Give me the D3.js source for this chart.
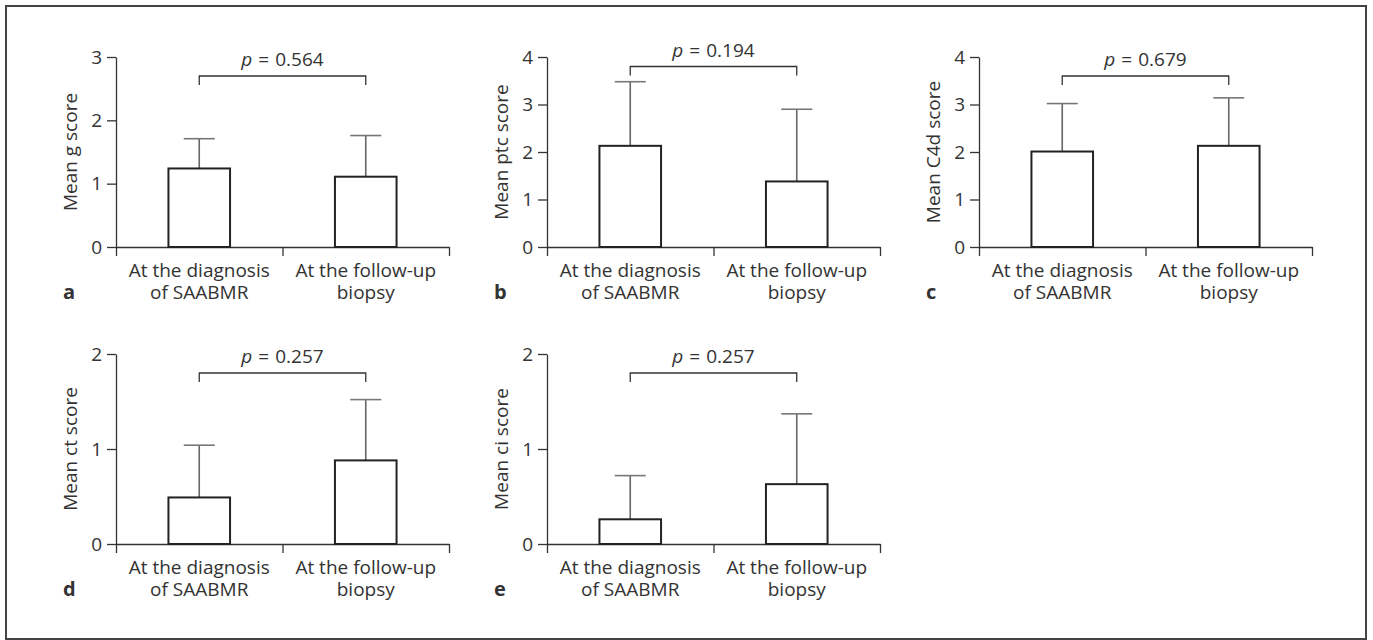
<!DOCTYPE html>
<html>
<head>
<meta charset="utf-8">
<script src="https://cdn.jsdelivr.net/npm/d3@7"></script>
<style>
  html, body { margin: 0; padding: 0; background: #fff; }
  svg { display: block; }
  text { font-family: "Open Sans", "Noto Sans", sans-serif; fill: #333; }
</style>
</head>
<body>
<svg id="chart" width="1373" height="640"></svg>
<script>
// ---- data ----
const categories = [["At the diagnosis", "of SAABMR"], ["At the follow-up", "biopsy"]];
const panelLetters = ["a", "b", "c", "d", "e"];
const yLabels = ["Mean g score", "Mean ptc score", "Mean C4d score", "Mean ct score", "Mean ci score"];
const yMax = [3, 4, 4, 2, 2];
const meanValues = [[1.24, 1.11], [2.13, 1.38], [2.01, 2.13], [0.49, 0.88], [0.26, 0.63]];
const errorTops = [[1.71, 1.76], [3.48, 2.90], [3.02, 3.14], [1.04, 1.52], [0.72, 1.37]];
const pValues = ["0.564", "0.194", "0.679", "0.257", "0.257"];
const bracketLevels = [2.70, 3.80, 3.60, 1.80, 1.80];

// ---- layout ----
const panelOrigins = [
  { x: 116, zero: 247, top: 57 },
  { x: 547, zero: 247, top: 57 },
  { x: 979, zero: 247, top: 57 },
  { x: 116, zero: 544, top: 354 },
  { x: 547, zero: 544, top: 354 }
];
const axisW = 333;
const FS = 19;

const svg = d3.select("#chart");

// outer frame
svg.append("rect")
  .attr("x", 6).attr("y", 6)
  .attr("width", 1360).attr("height", 633)
  .attr("fill", "none").attr("stroke", "#444").attr("stroke-width", 2);

panelOrigins.forEach((o, i) => {
  const g = svg.append("g");
  const y = d3.scaleLinear().domain([0, yMax[i]]).range([o.zero, o.top]);
  const xb = d3.scaleBand().domain([0, 1]).range([o.x, o.x + axisW]).padding(0);
  const xe = d3.scaleLinear().domain([0, 2]).range([o.x, o.x + axisW]);
  const barW = xb.bandwidth() * 0.37;
  const cx = k => xb(k) + xb.bandwidth() / 2;

  // y axis
  const ya = g.append("g")
    .attr("transform", `translate(${o.x},0)`)
    .call(d3.axisLeft(y).ticks(yMax[i]).tickFormat(d3.format("d")).tickSize(9).tickSizeOuter(0).tickPadding(5));
  ya.selectAll("text").attr("font-size", FS).style("font-family", '"Open Sans", sans-serif').attr("fill", "#333");
  ya.selectAll("line, path").attr("stroke", "#333").attr("stroke-width", 1.3);

  // x axis (boundaries)
  const xa = g.append("g")
    .attr("transform", `translate(0,${o.zero})`)
    .call(d3.axisBottom(xe).tickValues([0, 1, 2]).tickFormat("").tickSize(9).tickSizeOuter(0));
  xa.selectAll("line, path").attr("stroke", "#333").attr("stroke-width", 1.3);

  // error bars
  [0, 1].forEach(k => {
    g.append("line")
      .attr("x1", cx(k)).attr("x2", cx(k))
      .attr("y1", y(meanValues[i][k])).attr("y2", y(errorTops[i][k]))
      .attr("stroke", "#666").attr("stroke-width", 1.6);
    g.append("line")
      .attr("x1", cx(k) - 15.5).attr("x2", cx(k) + 15.5)
      .attr("y1", y(errorTops[i][k])).attr("y2", y(errorTops[i][k]))
      .attr("stroke", "#777").attr("stroke-width", 1.6);
  });

  // bars
  g.selectAll("rect.bar").data(meanValues[i]).join("rect")
    .attr("class", "bar")
    .attr("x", (d, k) => cx(k) - barW / 2)
    .attr("width", barW)
    .attr("y", d => y(d))
    .attr("height", d => y(0) - y(d))
    .attr("fill", "#fff").attr("stroke", "#222").attr("stroke-width", 2);

  // category labels
  categories.forEach((lines, k) => {
    const t = g.append("text")
      .attr("x", cx(k)).attr("y", o.zero + 30)
      .attr("text-anchor", "middle").attr("font-size", FS);
    t.append("tspan").attr("x", cx(k)).attr("dy", 0).text(lines[0]);
    t.append("tspan").attr("x", cx(k)).attr("dy", 22).text(lines[1]);
  });

  // panel letter
  g.append("text")
    .attr("x", o.x - 53).attr("y", o.zero + 52)
    .attr("font-size", 20).attr("font-weight", "bold").attr("fill", "#222")
    .text(panelLetters[i]);

  // y label
  g.append("text")
    .attr("transform", `translate(${o.x - 39},${(o.zero + o.top) / 2}) rotate(-90)`)
    .attr("text-anchor", "middle").attr("font-size", FS)
    .text(yLabels[i]);

  // significance bracket
  const by = y(bracketLevels[i]);
  g.append("path")
    .attr("d", `M${cx(0)},${by + 9}V${by}H${cx(1)}V${by + 9}`)
    .attr("fill", "none").attr("stroke", "#333").attr("stroke-width", 1.3);
  const pt = g.append("text")
    .attr("x", (cx(0) + cx(1)) / 2).attr("y", by - 10)
    .attr("text-anchor", "middle").attr("font-size", FS);
  pt.append("tspan").attr("font-style", "italic").text("p");
  pt.append("tspan").attr("dx", 6).text("=");
  pt.append("tspan").attr("dx", 6).text(pValues[i]);
});
</script>
</body>
</html>
